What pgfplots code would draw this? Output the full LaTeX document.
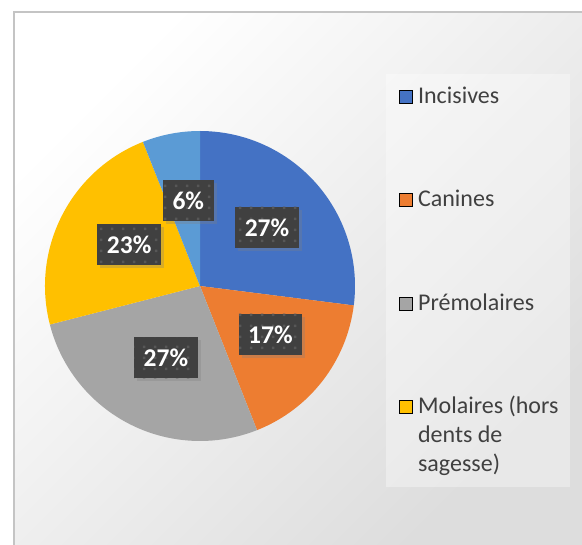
\documentclass[border=0pt]{standalone}
\usepackage{pgfplots}
\pgfplotsset{compat=1.18}
\usepackage{pgfplotstable}
\usepackage{fontspec}
\setmainfont{Carlito}
\usetikzlibrary{patterns,shadows}

\definecolor{cInc}{HTML}{4472C4}
\definecolor{cCan}{HTML}{ED7D31}
\definecolor{cPre}{HTML}{A5A5A5}
\definecolor{cMol}{HTML}{FFC000}
\definecolor{cSag}{HTML}{5B9BD5}
\definecolor{boxgray}{HTML}{404040}
\definecolor{dotgray}{HTML}{575757}
\definecolor{txtgray}{HTML}{404040}
\definecolor{framegray}{HTML}{C4C4C4}

\pgfdeclarepatternformonly{bigdots}{\pgfpointorigin}{\pgfpoint{10.7pt}{10.7pt}}{\pgfpoint{10.7pt}{10.7pt}}{%
  \pgfpathrectangle{\pgfpoint{4pt}{4pt}}{\pgfpoint{2.6pt}{2.6pt}}\pgfusepath{fill}}

% share of each kind of tooth (%), clockwise from 12 o'clock
\pgfplotstableread{
value color
27 cInc
17 cCan
27 cPre
23 cMol
6  cSag
}\teeth

\tikzset{lbl/.style={fill=boxgray, text=white, font=\fontsize{25.5}{30}\selectfont\bfseries,
  inner xsep=9.5pt, inner ysep=0pt, minimum height=41pt,
  postaction={pattern=bigdots, pattern color=dotgray},
  drop shadow={opacity=0.3, shadow xshift=3pt, shadow yshift=-3pt}}}

\begin{document}
\begin{tikzpicture}
\begin{axis}[
  width=582pt, height=545pt, scale only axis,
  xmin=0, xmax=582, ymin=0, ymax=545, y dir=reverse,
  hide axis, clip=false,
  legend cell align=left,
  legend style={at={(axis cs:399,86)}, anchor=north west, draw=none, fill=none, inner sep=0pt,
    font=\fontsize{24}{29}\selectfont, text=txtgray, row sep=81.5pt, column sep=5.5pt,
    cells={anchor=base west}, nodes={inner sep=0pt, text height=17pt, text depth=5pt}},
  legend image code/.code={\fill[#1] (0pt,0pt) rectangle (13pt,13pt);},
]
% background and frame
\fill[white] (axis cs:0,0) rectangle (axis cs:582,545);
\shade[top color=white, bottom color=gray!27, shading angle=45] (axis cs:14,12) rectangle (axis cs:582,545);
\draw[framegray, line width=2.5pt] (axis cs:14.2,545) -- (axis cs:14.2,12.2) -- (axis cs:582,12.2);
\fill[white, opacity=0.35] (axis cs:386,74) rectangle (axis cs:570,487);

% slices
\pgfplotsextra{%
  \gdef\cum{0}%
  \pgfplotstableforeachcolumnelement{value}\of\teeth\as\val{%
    \pgfplotstablegetelem{\pgfplotstablerow}{color}\of\teeth
    \let\slicecol\pgfplotsretval
    \pgfmathsetmacro\angA{90-3.6*\cum}%
    \pgfmathsetmacro\angB{90-3.6*(\cum+\val)}%
    \fill[\slicecol] (axis cs:200,286) -- ++(\angA:155pt) arc[start angle=\angA, end angle=\angB, radius=155pt] -- cycle;
    \pgfmathsetmacro\newcum{\cum+\val}\xdef\cum{\newcum}%
  }%
  \gdef\cum{0}%
  \pgfplotstableforeachcolumnelement{value}\of\teeth\as\val{%
    \pgfmathsetmacro\angM{90-3.6*(\cum+\val/2)}%
    \path (axis cs:200,286) ++(\angM:84pt) ++(4pt,3pt) node[lbl] {\val\%};
    \pgfmathsetmacro\newcum{\cum+\val}\xdef\cum{\newcum}%
  }%
}

\addlegendimage{fill=cInc}
\addlegendentry{Incisives}
\addlegendimage{fill=cCan}
\addlegendentry{Canines}
\addlegendimage{fill=cPre}
\addlegendentry{Prémolaires}
\addlegendimage{fill=cMol}
\addlegendentry{\begin{tabular}[t]{@{}l@{}}Molaires (hors\\dents de\\sagesse)\end{tabular}}
\end{axis}
\pgfresetboundingbox
\path[use as bounding box] (current axis.south west) rectangle (current axis.north east);
\end{tikzpicture}
\end{document}
